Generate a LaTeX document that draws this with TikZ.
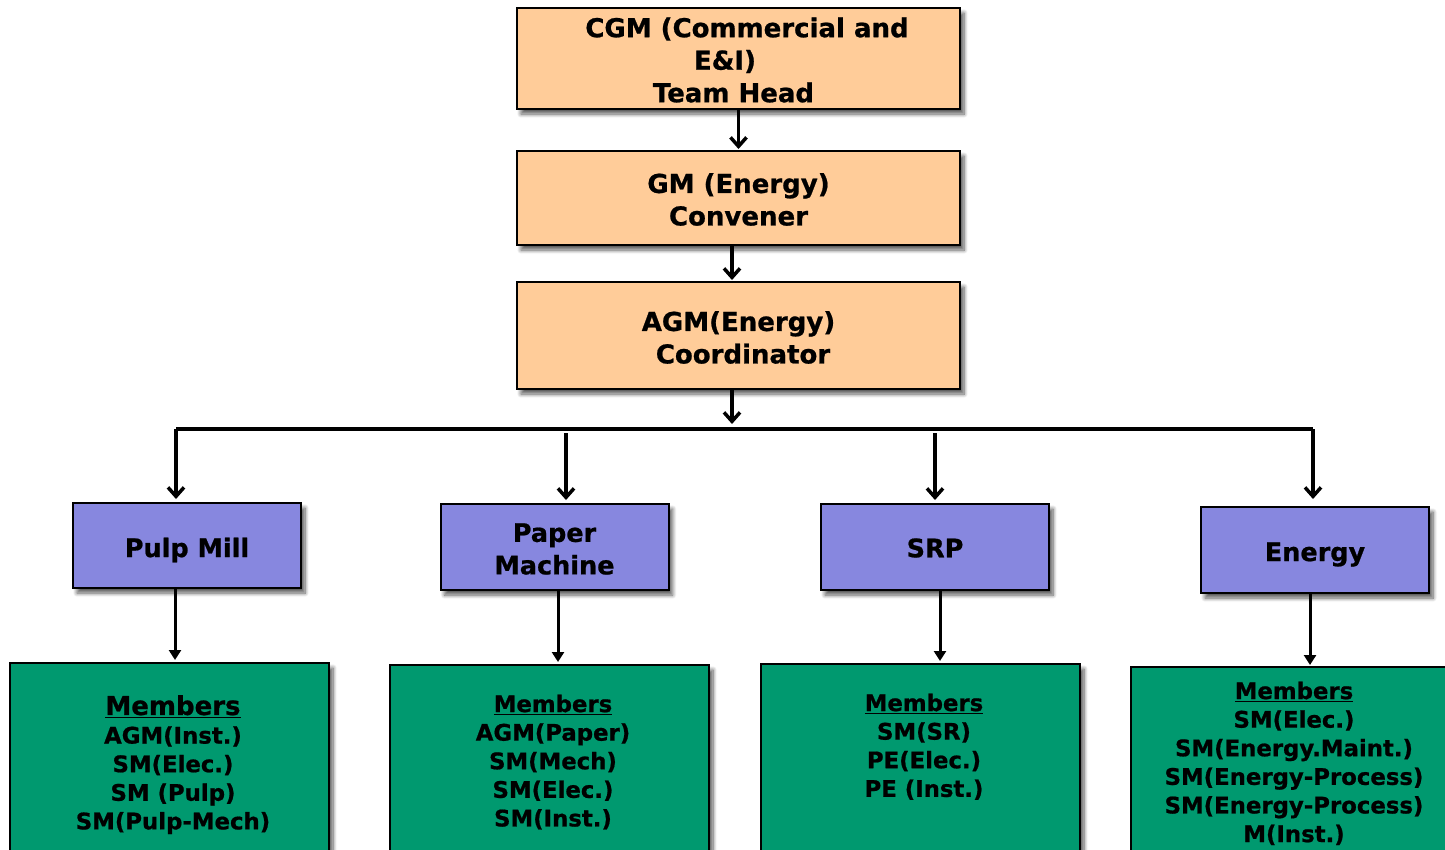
\documentclass[tikz,border=0pt]{standalone}
\usepackage{fontspec}
\setmainfont{DejaVu Sans}[BoldFeatures={FakeBold=0.8}]
\usetikzlibrary{arrows.meta,shadows.blur}
\definecolor{orangebox}{HTML}{FFCC99}
\definecolor{purplebox}{HTML}{8787DF}
\definecolor{greenbox}{HTML}{00996F}
\newcommand{\lowertext}[2]{\raisebox{-#1}[\height][\depth]{#2}}
\begin{document}
\begin{tikzpicture}[x=1pt,y=-1pt,
  box/.style={draw=black,line width=2pt,
    blur shadow={shadow xshift=4pt,shadow yshift=-5pt,shadow blur steps=8,shadow blur radius=4pt,shadow opacity=65},
    inner sep=0pt,align=center,font=\bfseries\fontsize{26}{32.5}\selectfont},
  headbox/.style={box,fill=orangebox,minimum width=443pt},
  unitbox/.style={box,fill=purplebox,minimum width=228pt,minimum height=86pt,font=\bfseries\fontsize{25.5}{32.5}\selectfont},
  memberbox/.style={box,fill=greenbox,minimum width=319pt,minimum height=220pt},
  memtext/.style={anchor=north,align=center,inner sep=0pt,font=\bfseries\fontsize{22.8}{28.6}\selectfont},
  toparrow/.style={line width=3.2pt,-{Straight Barb[length=9pt,width=16pt,line width=3.5pt]}},
  downarrow/.style={line width=3pt,-{Triangle[length=10pt,width=12pt]}},
]
\useasboundingbox (0,0) rectangle (1445,849);
\clip (0,0) rectangle (1445,849);

% head boxes
\node[headbox,minimum height=101pt] (cgm) at (738.5,58.5) {\lowertext{1.5pt}{\hspace*{17pt}CGM (Commercial and}\\\lowertext{1.5pt}{E\&I)\hspace*{27pt}}\\\lowertext{1.5pt}{Team Head\hspace*{10pt}}};
\node[headbox,minimum height=94pt] (gm) at (738.5,198) {\lowertext{1.5pt}{GM (Energy)}\\\lowertext{1.5pt}{Convener}};
\node[headbox,minimum height=107pt] (agm) at (738.5,335.5) {\lowertext{2pt}{AGM(Energy)}\\\lowertext{2pt}{\hspace*{9pt}Coordinator}};

% unit boxes
\node[unitbox,minimum height=85pt] (pulp) at (187,545.5) {\lowertext{4.5pt}{Pulp Mill}};
\node[unitbox] (paper) at (554.5,547) {\lowertext{2pt}{Paper}\\\lowertext{2pt}{Machine}};
\node[unitbox] (srp) at (935,547) {\lowertext{1pt}{SRP}};
\node[unitbox] (energy) at (1315,550) {\lowertext{4.5pt}{Energy}};

% member boxes
\node[memberbox] (pulpm) at (169.5,773) {};
\node[memberbox] (paperm) at (549.5,775) {};
\node[memberbox] (srpm) at (920.5,774) {};
\node[memberbox] (energym) at (1290.5,777) {};

\node[memtext] (pulpt) at (173,695) {{\fontsize{26}{31}\selectfont\underline{Members}}\\AGM(Inst.)\\SM(Elec.)\\SM (Pulp)\\SM(Pulp-Mech)};
\node[memtext] (papert) at (553,694.5) {\underline{Members}\\AGM(Paper)\\SM(Mech)\\SM(Elec.)\\SM(Inst.)};
\node[memtext] (srpt) at (924,693.5) {\underline{Members}\\SM(SR)\\PE(Elec.)\\PE (Inst.)};
\node[memtext] (energyt) at (1294,681.5) {\underline{Members}\\SM(Elec.)\\SM(Energy.Maint.)\\SM(Energy-Process)\\SM(Energy-Process)\\M(Inst.)};

% connectors
\draw[toparrow,shorten >=1pt] (cgm.south) -- (gm.north);
\draw[toparrow,shorten >=1pt] ([xshift=-6.5pt]gm.south) -- ([xshift=-6.5pt]agm.north);
\coordinate (hub) at (732,429);
\draw[toparrow,shorten >=5pt] ([xshift=-6.5pt]agm.south) -- (hub);
\coordinate (barL) at (176,429);
\coordinate (barR) at (1313,429);
\draw[line width=3.2pt] (barL) -- (barR);
\coordinate (t2) at (566,433);
\coordinate (t3) at (935,433);
\draw[toparrow,shorten >=3pt] (barL) -- (pulp.north -| barL);
\draw[toparrow,shorten >=3pt] (t2) -- (paper.north -| t2);
\draw[toparrow,shorten >=3pt] (t3) -- (srp.north -| t3);
\draw[toparrow,shorten >=7pt] (barR) -- (energy.north -| barR);

\draw[downarrow,shorten >=2pt] ([xshift=-12pt]pulp.south) -- ([xshift=-12pt]pulp.south |- pulpm.north);
\draw[downarrow,shorten >=2pt] ([xshift=3.5pt]paper.south) -- ([xshift=3.5pt]paper.south |- paperm.north);
\draw[downarrow,shorten >=2pt] ([xshift=5pt]srp.south) -- ([xshift=5pt]srp.south |- srpm.north);
\draw[downarrow,shorten >=1pt] ([xshift=-5pt]energy.south) -- ([xshift=-5pt]energy.south |- energym.north);
\end{tikzpicture}
\end{document}
